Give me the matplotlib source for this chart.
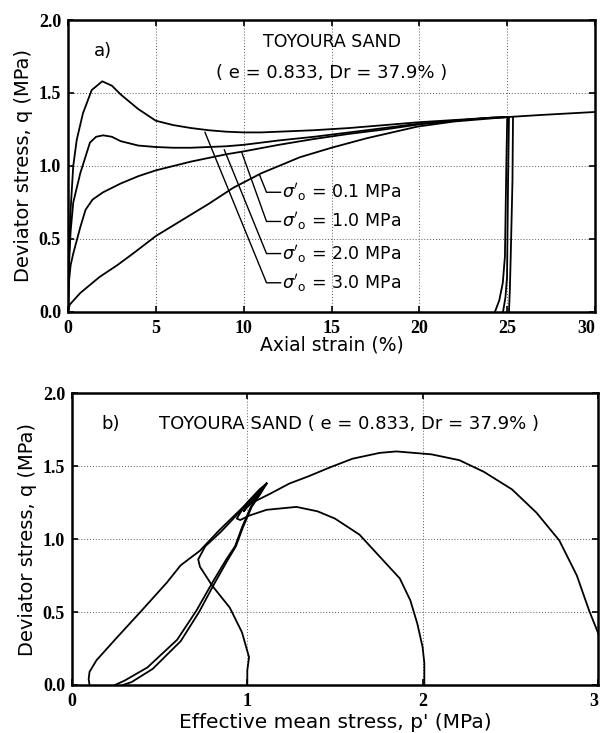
import matplotlib
matplotlib.use('Agg')
import matplotlib.pyplot as plt

# ---- a) deviator stress vs axial strain ----
eps_s3 = [0, 0.05, 0.15, 0.3, 0.5, 0.85, 1.35, 1.95, 2.5, 3.0, 4.0, 5.0, 6.0, 7.0, 8.0, 9.0, 10.0, 11.0, 12.0, 14.0, 16.0, 18.0, 20.0, 22.0, 24.0, 25.0]
q_s3   = [0, 0.35, 0.7, 1.0, 1.18, 1.36, 1.52, 1.58, 1.55, 1.49, 1.39, 1.31, 1.28, 1.26, 1.245, 1.235, 1.23, 1.23, 1.235, 1.245, 1.26, 1.28, 1.30, 1.315, 1.33, 1.335]
eps_s2 = [0, 0.05, 0.15, 0.3, 0.7, 1.25, 1.6, 2.0, 2.5, 3.0, 4.0, 5.0, 6.0, 7.0, 8.0, 9.0, 10.0, 12.0, 14.0, 16.0, 18.0, 20.0, 22.0, 24.0, 25.0]
q_s2   = [0, 0.3, 0.55, 0.75, 0.95, 1.16, 1.2, 1.21, 1.2, 1.17, 1.14, 1.13, 1.125, 1.125, 1.13, 1.135, 1.145, 1.175, 1.2, 1.23, 1.26, 1.29, 1.31, 1.33, 1.335]
eps_s1 = [0, 0.05, 0.15, 0.3, 0.7, 1.0, 1.4, 2.0, 3.0, 4.0, 5.0, 6.0, 7.0, 8.0, 9.0, 10.0, 12.0, 14.0, 16.0, 18.0, 20.0, 22.0, 24.0, 25.0]
q_s1   = [0, 0.2, 0.32, 0.4, 0.58, 0.7, 0.77, 0.82, 0.88, 0.93, 0.97, 1.0, 1.03, 1.055, 1.08, 1.1, 1.145, 1.185, 1.22, 1.25, 1.285, 1.31, 1.33, 1.335]
eps_s01 = [0, 0.1, 0.7, 1.8, 2.8, 3.7, 5.0, 6.5, 8.0, 9.4, 11.0, 13.2, 15.0, 17.0, 19.9, 22.0, 24.0, 25.0, 27.0, 30.0]
q_s01   = [0, 0.05, 0.13, 0.24, 0.32, 0.40, 0.52, 0.63, 0.74, 0.85, 0.95, 1.06, 1.125, 1.19, 1.27, 1.305, 1.325, 1.335, 1.35, 1.37]
# unloading at ~25 %
eps_u1 = [25.0, 24.95, 24.87, 24.75, 24.55, 24.3]
q_u1   = [1.33, 1.0, 0.38, 0.2, 0.08, 0.0]
eps_u2 = [25.1, 25.05, 24.99, 24.9, 24.76]
q_u2   = [1.33, 0.9, 0.24, 0.1, 0.0]
eps_u3 = [25.33, 25.3, 25.2, 25.15, 25.1]
q_u3   = [1.33, 0.9, 0.38, 0.15, 0.0]

# ---- b) stress paths ----
p_s3 = [3.1, 3.05, 3.0, 2.95, 2.88, 2.78, 2.65, 2.51, 2.35, 2.21, 2.05, 1.85, 1.755, 1.6, 1.47, 1.35, 1.24, 1.13, 1.03, 0.99, 0.98, 1.0, 1.06, 1.11]
q_s3b = [0.0, 0.2, 0.36, 0.51, 0.75, 0.99, 1.18, 1.34, 1.46, 1.54, 1.58, 1.60, 1.59, 1.55, 1.49, 1.43, 1.38, 1.31, 1.25, 1.21, 1.19, 1.22, 1.30, 1.38]
p_s2 = [2.01, 2.01, 2.0, 1.97, 1.93, 1.87, 1.755, 1.64, 1.5, 1.4, 1.28, 1.11, 1.01, 0.96, 0.94, 0.96, 1.0, 1.07, 1.11]
q_s2b = [0.0, 0.15, 0.26, 0.42, 0.58, 0.73, 0.88, 1.03, 1.14, 1.19, 1.22, 1.20, 1.16, 1.13, 1.14, 1.18, 1.25, 1.34, 1.38]
p_s1 = [1.0, 1.0, 1.01, 0.97, 0.90, 0.80, 0.73, 0.72, 0.76, 0.85, 0.96, 1.05, 1.11]
q_s1b = [0.0, 0.1, 0.19, 0.36, 0.53, 0.68, 0.81, 0.86, 0.95, 1.05, 1.19, 1.30, 1.38]
p_s01 = [0.1, 0.095, 0.1, 0.14, 0.26, 0.39, 0.54, 0.62, 0.73, 0.84, 0.96, 1.05, 1.11]
q_s01b = [0.0, 0.04, 0.09, 0.17, 0.33, 0.5, 0.70, 0.82, 0.92, 1.06, 1.2, 1.31, 1.38]
p_u1 = [0.245, 0.3, 0.43, 0.60, 0.71, 0.80, 0.88, 0.93, 0.97, 1.02, 1.07, 1.11]
q_u1b = [0.0, 0.03, 0.12, 0.31, 0.51, 0.70, 0.86, 0.95, 1.08, 1.22, 1.31, 1.38]
p_u2 = [0.29, 0.34, 0.46, 0.62, 0.725, 0.81, 0.885, 0.935, 0.975, 1.025, 1.075, 1.11]
q_u2b = [0.0, 0.02, 0.11, 0.30, 0.50, 0.69, 0.85, 0.95, 1.08, 1.22, 1.31, 1.38]

sig_labels = ["0.1", "1.0", "2.0", "3.0"]
# leader lines: point on curve (eps, q) -> label y
lead_eps = [10.9, 9.9, 8.9, 7.8]
lead_q = [0.94, 1.09, 1.11, 1.23]
lab_q = [0.82, 0.62, 0.40, 0.20]

tickfont = dict(family='Liberation Serif', weight='bold', size=13)
sans = 'DejaVu Sans'

fig = plt.figure(figsize=(6.01, 7.33), dpi=100)


def style_axes(ax, xticks, xlabels):
    ax.set_ylim(0, 2.0)
    ax.set_yticks([0, 0.5, 1.0, 1.5, 2.0])
    ax.set_yticklabels(['0.0', '0.5', '1.0', '1.5', '2.0'], fontdict=tickfont)
    ax.set_xticks(xticks)
    ax.set_xticklabels(xlabels, fontdict=tickfont)
    ax.get_xticklabels()[-1].set_ha('right')
    ax.tick_params(direction='in', top=True, right=True, length=4, width=1.2, pad=6)
    ax.tick_params(axis='y', pad=5)
    ax.grid(True, color='0.35', linestyle=(0, (1, 2)), linewidth=0.7)
    for s in ax.spines.values():
        s.set_linewidth(1.8)
    ax.set_ylabel('Deviator stress, q (MPa)', family=sans, fontsize=14, labelpad=4)


ax1 = fig.add_axes([0.1131, 0.5744, 0.877, 0.3983])
for x, y in [(eps_s3, q_s3), (eps_s2, q_s2), (eps_s1, q_s1), (eps_s01, q_s01),
             (eps_u1, q_u1), (eps_u2, q_u2), (eps_u3, q_u3)]:
    ax1.plot(x, y, 'k', linewidth=1.3)
ax1.set_xlim(0, 30)
style_axes(ax1, [0, 5, 10, 15, 20, 25, 30], ['0', '5', '10', '15', '20', '25', '30'])
ax1.set_xlabel('Axial strain (%)', family=sans, fontsize=13.5, labelpad=-1)
ax1.text(1.5, 1.79, 'a)', family=sans, fontsize=13, va='center')
ax1.text(15, 1.85, 'TOYOURA SAND', family=sans, fontsize=12.5, ha='center', va='center')
ax1.text(15, 1.64, '( e = 0.833, Dr = 37.9% )', family=sans, fontsize=13, ha='center', va='center')
for s, e0, q0, ql in zip(sig_labels, lead_eps, lead_q, lab_q):
    ax1.plot([e0, 11.3, 12.1], [q0, ql, ql], 'k', linewidth=1.0)
    ax1.text(12.2, ql, r"$\sigma'_{\rm o}$ = " + s + " MPa", family=sans, fontsize=12.5, va='center')

ax2 = fig.add_axes([0.1198, 0.0655, 0.875, 0.3983])
for x, y in [(p_s3, q_s3b), (p_s2, q_s2b), (p_s1, q_s1b), (p_s01, q_s01b),
             (p_u1, q_u1b), (p_u2, q_u2b)]:
    ax2.plot(x, y, 'k', linewidth=1.3)
ax2.set_xlim(0, 3)
style_axes(ax2, [0, 1, 2, 3], ['0', '1', '2', '3'])
ax2.set_xlabel("Effective mean stress, p' (MPa)", family=sans, fontsize=14.5, labelpad=2)
ax2.text(0.17, 1.79, 'b)', family=sans, fontsize=13, va='center')
ax2.text(1.58, 1.79, 'TOYOURA SAND ( e = 0.833, Dr = 37.9% )', family=sans, fontsize=13,
         ha='center', va='center')

fig.savefig('out.png', dpi=100)
